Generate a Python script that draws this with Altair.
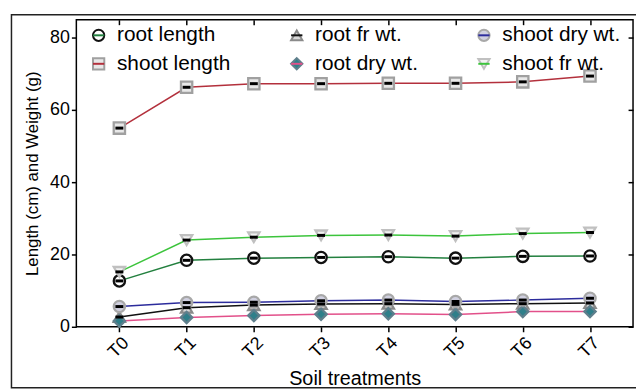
import altair as alt
import pandas as pd

treatments = ["T0", "T1", "T2", "T3", "T4", "T5", "T6", "T7"]

root_length = [12.7, 18.4, 19.0, 19.2, 19.4, 19.0, 19.5, 19.6]
shoot_length = [55.0, 66.3, 67.3, 67.3, 67.4, 67.4, 67.8, 69.4]
root_fr_wt = [2.7, 5.3, 6.0, 6.3, 6.4, 6.2, 6.4, 6.6]
root_dry_wt = [1.6, 2.6, 3.1, 3.5, 3.6, 3.4, 4.2, 4.2]
shoot_dry_wt = [5.6, 6.7, 6.8, 7.2, 7.4, 7.0, 7.4, 7.9]
shoot_fr_wt = [15.2, 24.0, 24.8, 25.3, 25.4, 25.1, 25.8, 26.1]

# legend order (column-major, 3 columns x 2 rows)
series_names = ["root length", "shoot length", "root fr wt.",
                "root dry wt.", "shoot dry wt.", "shoot fr wt."]
series_values = [root_length, shoot_length, root_fr_wt,
                 root_dry_wt, shoot_dry_wt, shoot_fr_wt]

line_colors = ["#23803f", "#b3303c", "#111111", "#e2508a", "#2c2c9c", "#3cc43c"]
marker_stroke = ["#111111", "#a0a0a0", "#8a8a8a", "#5f7f8c", "#a8a8a8", "#c0c0c0"]
marker_fill = ["#ffffff", "#e8e8e8", "#d8d8d8", "#2f7f8a", "#d0d0e0", "#f2f2f2"]
marker_shapes = ["circle", "square", "triangle-up", "diamond", "circle", "triangle-down"]

rows = []
for name, vals in zip(series_names, series_values):
    for t, v in zip(treatments, vals):
        rows.append({"treatment": t, "value": v, "series": name, "line_series": name})
df = pd.DataFrame(rows)

FONT = "Liberation Sans"

x_scale = alt.Scale(type="point", domain=treatments, padding=0.64)
y_scale = alt.Scale(domain=[0, 85], nice=False, zero=True)

x_main = alt.X("treatment:O", scale=x_scale, sort=treatments,
               axis=alt.Axis(title="Soil treatments", labelAngle=-45, domain=False,
                             tickSize=5, tickWidth=1.5, tickColor="black",
                             labelFont=FONT, labelFontSize=18, labelColor="black",
                             labelPadding=2,
                             titleFont=FONT, titleFontSize=20, titleFontWeight="normal",
                             titleColor="black", titlePadding=8))
y_main = alt.Y("value:Q", scale=y_scale,
               axis=alt.Axis(title="Length (cm) and Weight (g)", values=[0, 20, 40, 60, 80],
                             domain=False, grid=False, tickSize=5, tickWidth=1.5,
                             tickColor="black", labelFont=FONT, labelFontSize=18,
                             labelColor="black", labelPadding=2,
                             titleFont=FONT, titleFontSize=17, titleFontWeight="normal",
                             titleColor="black", titlePadding=8))

leg_common = dict(orient="none", legendX=12, legendY=5, columns=3, columnPadding=56,
                  rowPadding=7, symbolSize=130, labelFontSize=21, labelFont=FONT,
                  labelColor="black", labelOffset=8, title=None, padding=0,
                  gridAlign="each", symbolStrokeWidth=2)

point_leg = alt.Legend(symbolOpacity=1, **leg_common)
line_leg = alt.Legend(symbolType="stroke", labelOpacity=0, **leg_common)

# legend carrier for the markers (drawn first so the line legend lies on top)
legend_layer = alt.Chart(df).transform_filter("false").mark_point(filled=False).encode(
    x=x_main, y=y_main,
    color=alt.Color("series:N",
                    scale=alt.Scale(domain=series_names, range=marker_stroke),
                    legend=point_leg),
    shape=alt.Shape("series:N",
                    scale=alt.Scale(domain=series_names, range=marker_shapes),
                    legend=point_leg),
)

lines = alt.Chart(df).mark_line(strokeWidth=1.5).encode(
    x=x_main, y=y_main,
    stroke=alt.Stroke("line_series:N", sort=series_names,
                      scale=alt.Scale(range=line_colors), legend=line_leg),
)

points = alt.Chart(df).mark_point(filled=False, strokeWidth=2.3, size=130, opacity=1).encode(
    x=x_main, y=y_main,
    color=alt.Color("series:N", legend=None),
    fill=alt.Fill("series:N",
                  scale=alt.Scale(domain=series_names, range=marker_fill), legend=None),
    shape=alt.Shape("series:N", legend=None),
)

bars = alt.Chart(df).transform_filter(
    alt.datum.series != "root dry wt."
).mark_tick(color="black", size=8, thickness=3, opacity=1).encode(
    x=x_main, y=y_main,
)

# outer figure frame (decoration around the whole figure)
frame = alt.Chart(pd.DataFrame({"k": [0]})).mark_rect(
    fill=None, stroke="#222222", strokeWidth=1.5, clip=False
).encode(
    x=alt.value(-65.5), x2=alt.value(600), y=alt.value(-5), y2=alt.value(371.5)
)

inner = alt.layer(legend_layer, lines, points, bars, frame)

mirror = alt.Chart(df).mark_point(opacity=0).encode(
    x=alt.X("treatment:O", scale=x_scale, sort=treatments,
            axis=alt.Axis(orient="top", title=None, labels=False, domain=False,
                          tickSize=5, tickWidth=1.5, tickColor="black", offset=-5)),
    y=alt.Y("value:Q", scale=y_scale,
            axis=alt.Axis(orient="right", title=None, labels=False, domain=False,
                          grid=False, values=[0, 20, 40, 60, 80],
                          tickSize=5, tickWidth=1.5, tickColor="black", offset=-5)),
)

chart = alt.layer(inner, mirror).resolve_axis(
    x="independent", y="independent"
).properties(
    width=562, height=310,
    autosize=alt.AutoSizeParams(type="none"),
    padding={"left": 69, "top": 10, "right": 3, "bottom": 64},
    background="white",
).configure_view(
    stroke="black", strokeWidth=1.5
)

chart.save("out.html", embed_options={"renderer": "svg", "actions": False})
